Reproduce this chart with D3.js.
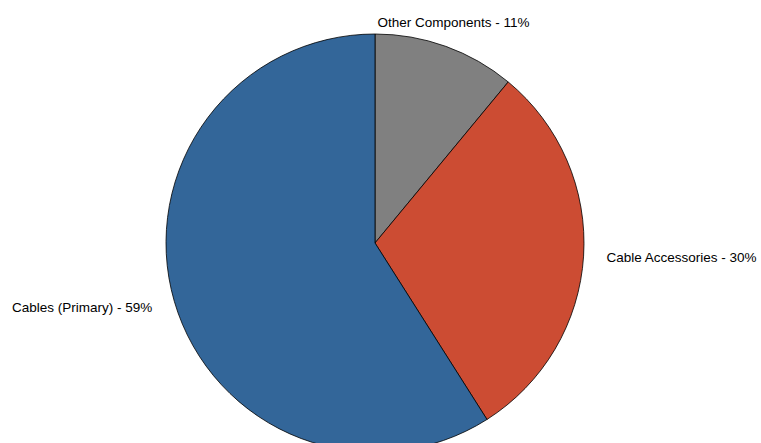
<!DOCTYPE html>
<html><head><meta charset="utf-8">
<script src="https://cdn.jsdelivr.net/npm/d3@7"></script>
<style>html,body{margin:0;padding:0;background:#fff;overflow:hidden}</style>
</head><body>
<svg id="chart" width="761" height="443"></svg>
<script>
const categories = ["Other Components", "Cable Accessories", "Cables (Primary)"];
const values = [11, 30, 59];
const colors = ["#808080", "#CC4C33", "#336699"];

const svg = d3.select("#chart");
const cx = 375, cy = 243, r = 209, labelR = 232;

const data = categories.map((c, i) => ({ name: c, value: values[i], color: colors[i] }));
const pie = d3.pie().value(d => d.value).sort(null);
const arc = d3.arc().innerRadius(0).outerRadius(r);
const arcs = pie(data);

const g = svg.append("g").attr("transform", `translate(${cx},${cy})`);
g.selectAll("path").data(arcs).join("path")
  .attr("d", arc)
  .attr("fill", d => d.data.color)
  .attr("stroke", "#000")
  .attr("stroke-width", 0.8);

g.selectAll("text").data(arcs).join("text")
  .each(function(d) {
    const a = (d.startAngle + d.endAngle) / 2;
    const x = Math.sin(a) * labelR, y = -Math.cos(a) * labelR;
    const s = Math.sin(a);
    d3.select(this)
      .attr("x", x).attr("y", y)
      .attr("dy", Math.abs(s) < 0.5 ? "0.15em" : "0.3em")
      .attr("text-anchor", Math.abs(s) < 0.5 ? "middle" : (s > 0 ? "start" : "end"));
  })
  .attr("font-family", "Liberation Sans, Arial, sans-serif")
  .attr("font-size", "13.5px")
  .attr("fill", "#000")
  .text(d => `${d.data.name} - ${d.data.value}%`);
</script>
</body></html>
